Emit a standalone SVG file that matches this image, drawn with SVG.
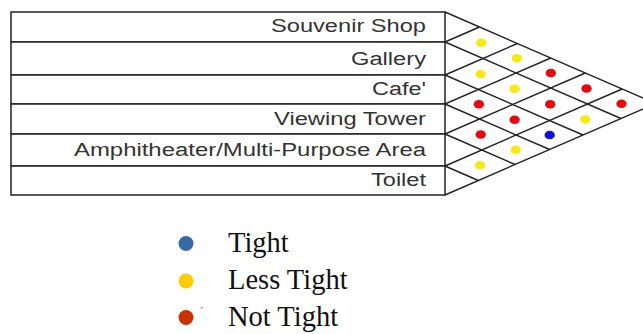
<svg xmlns="http://www.w3.org/2000/svg" width="643" height="334" viewBox="0 0 643 334">
<style>
.row{fill:#fff;stroke:#222;stroke-width:1.5}
.lbl{font-family:"Liberation Sans",Arial,sans-serif;font-size:18px;fill:#333;text-anchor:end}
.grid{stroke:#222;stroke-width:1.4;fill:none}
.y{fill:#f7ea14}
.r{fill:#e60a10}
.b{fill:#1010dd}
.leg{font-family:"Liberation Serif","Times New Roman",serif;font-size:28.5px;fill:#111}
</style>
<rect width="643" height="334" fill="#fff"/>
<g id="rows">
<g id="row-souvenir"><rect class="row" x="11" y="12" width="434" height="30"/><text class="lbl" x="426" y="32" textLength="155" lengthAdjust="spacingAndGlyphs">Souvenir Shop</text></g>
<g id="row-gallery"><rect class="row" x="11" y="42" width="434" height="33"/><text class="lbl" x="426" y="64.5" textLength="75" lengthAdjust="spacingAndGlyphs">Gallery</text></g>
<g id="row-cafe"><rect class="row" x="11" y="75" width="434" height="29"/><text class="lbl" x="426" y="94.5" textLength="54" lengthAdjust="spacingAndGlyphs">Cafe'</text></g>
<g id="row-tower"><rect class="row" x="11" y="104" width="434" height="30"/><text class="lbl" x="426" y="124.5" textLength="152" lengthAdjust="spacingAndGlyphs">Viewing Tower</text></g>
<g id="row-amphi"><rect class="row" x="11" y="134" width="434" height="32"/><text class="lbl" x="426" y="155.5" textLength="352" lengthAdjust="spacingAndGlyphs">Amphitheater/Multi-Purpose Area</text></g>
<g id="row-toilet"><rect class="row" x="11" y="166" width="434" height="29"/><text class="lbl" x="426" y="185.5" textLength="55" lengthAdjust="spacingAndGlyphs">Toilet</text></g>
</g>
<g id="connectors" class="grid">
<polyline points="445,12 655.45,103.5 445,195"/>
<line x1="445" y1="42" x2="620.95" y2="118.5"/>
<line x1="445" y1="75" x2="583" y2="135"/>
<line x1="445" y1="104" x2="549.65" y2="149.5"/>
<line x1="445" y1="134" x2="515.15" y2="164.5"/>
<line x1="445" y1="166" x2="478.35" y2="180.5"/>
<line x1="445" y1="42" x2="479.5" y2="27"/>
<line x1="445" y1="75" x2="517.45" y2="43.5"/>
<line x1="445" y1="104" x2="550.8" y2="58"/>
<line x1="445" y1="134" x2="585.3" y2="73"/>
<line x1="445" y1="166" x2="622.1" y2="89"/>
</g>
<g id="relations">
<g id="rel-0-1"><ellipse class="y" cx="481.2" cy="42.75" rx="5.2" ry="4.3"/></g>
<g id="rel-1-2"><ellipse class="y" cx="480.7" cy="74" rx="5.2" ry="4.3"/></g>
<g id="rel-2-3"><ellipse class="r" cx="478.9" cy="104.25" rx="5.2" ry="4.3"/></g>
<g id="rel-3-4"><ellipse class="r" cx="480.7" cy="134.5" rx="5.2" ry="4.3"/></g>
<g id="rel-4-5"><ellipse class="y" cx="480.1" cy="165.25" rx="5.2" ry="4.3"/></g>
<g id="rel-0-2"><ellipse class="y" cx="516.9" cy="58.25" rx="5.2" ry="4.3"/></g>
<g id="rel-1-3"><ellipse class="y" cx="514.6" cy="88.75" rx="5.2" ry="4.3"/></g>
<g id="rel-2-4"><ellipse class="r" cx="514.6" cy="119.75" rx="5.2" ry="4.3"/></g>
<g id="rel-3-5"><ellipse class="y" cx="515.7" cy="149.75" rx="5.2" ry="4.3"/></g>
<g id="rel-0-3"><ellipse class="r" cx="550.8" cy="73" rx="5.2" ry="4.3"/></g>
<g id="rel-1-4"><ellipse class="r" cx="550.2" cy="104.25" rx="5.2" ry="4.3"/></g>
<g id="rel-2-5"><ellipse class="b" cx="549.7" cy="135" rx="5.2" ry="4.3"/></g>
<g id="rel-0-4"><ellipse class="r" cx="586.5" cy="88.5" rx="5.2" ry="4.3"/></g>
<g id="rel-1-5"><ellipse class="y" cx="585.3" cy="119.5" rx="5.2" ry="4.3"/></g>
<g id="rel-0-5"><ellipse class="r" cx="621.5" cy="103.75" rx="5.2" ry="4.3"/></g>
</g>
<g id="legend">
<g id="leg-tight"><circle cx="186" cy="243.5" r="7.5" fill="#336ba6"/><text class="leg" x="228" y="252">Tight</text></g>
<g id="leg-less"><circle cx="186" cy="281" r="7.5" fill="#ffcc00"/><text class="leg" x="228" y="289">Less Tight</text></g>
<g id="leg-not"><circle cx="186" cy="317.5" r="7.5" fill="#c83200"/><text class="leg" x="228" y="325.5">Not Tight</text></g>
<rect x="201.5" y="307" width="1" height="1.5" fill="#555"/>
</g>
</svg>
